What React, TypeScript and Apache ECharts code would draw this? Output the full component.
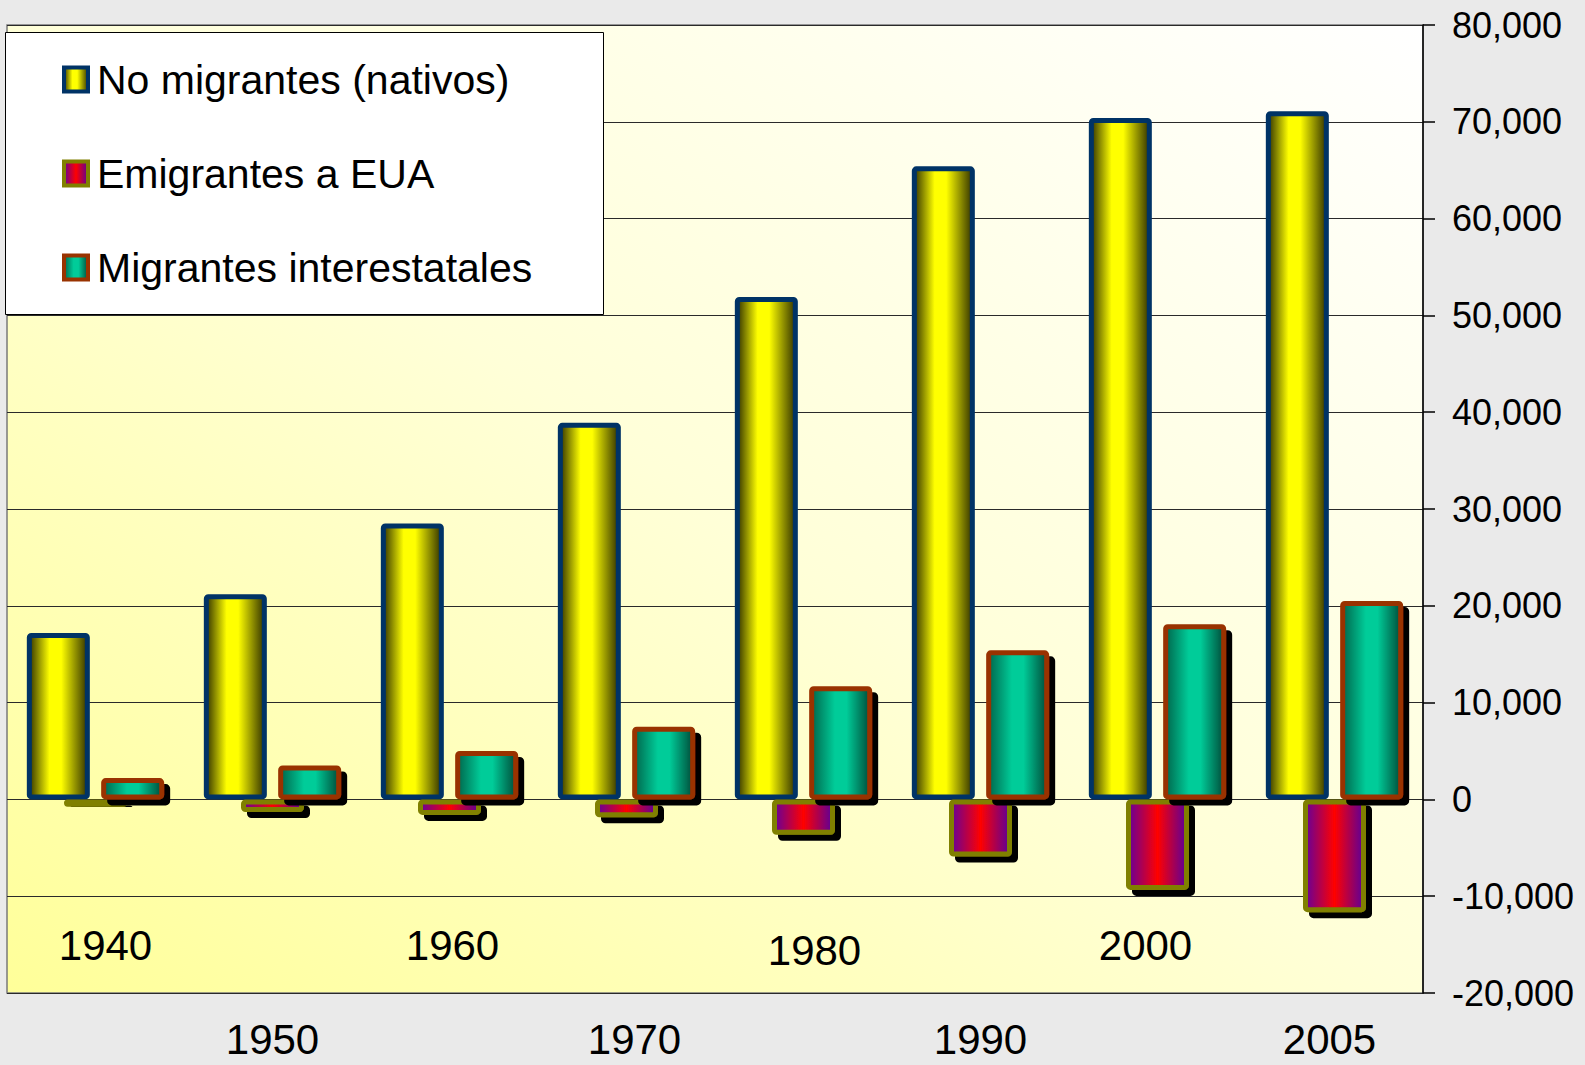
import React, { useEffect, useRef } from 'react';
import * as echarts from 'echarts';

// ---- data ----
const years = ['1940', '1950', '1960', '1970', '1980', '1990', '2000', '2005'];
const noMigrantes = [17200, 21200, 28500, 38900, 51900, 65400, 70400, 71100];
const emigrantesEUA = [-750, -1300, -1600, -1850, -3650, -5900, -9350, -11650];
const interestatales = [2200, 3500, 5000, 7500, 11700, 15400, 18100, 20500];
const seriesNames = ['No migrantes (nativos)', 'Emigrantes a EUA', 'Migrantes interestatales'];
const yMin = -20000;
const yMax = 80000;
const yStep = 10000;

// ---- styling ----
const FONT = 'Arial, "Liberation Sans", Helvetica, sans-serif';
// small nudges of category labels (px), as in the original
const labelShiftX = [10, 0, 3, 8, 11, 0, -12, -5];
const labelShiftY = [0, 0, 0, 0, 5, 0, 0, 0];

function hGrad(stops: [number, string][]) {
  return new echarts.graphic.LinearGradient(
    0, 0, 1, 0,
    stops.map(([offset, color]) => ({ offset, color }))
  );
}

const yellowFill = () => hGrad([[0, '#333300'], [0.35, '#ffff00'], [0.55, '#ffff00'], [1, '#333300']]);
const redFill = () => hGrad([[0, '#660099'], [0.5, '#ff0000'], [1, '#5c0099']]);
const greenFill = () => hGrad([[0, '#00664c'], [0.4, '#00cc99'], [0.6, '#00cc99'], [1, '#004d3a']]);

const seriesStyles = [
  { fill: yellowFill, border: '#003366', shadow: false },
  { fill: redFill, border: '#808000', shadow: true },
  { fill: greenFill, border: '#993300', shadow: true },
];
const seriesData = [noMigrantes, emigrantesEUA, interestatales];

function richFor(fontSize: number) {
  const rich: Record<string, any> = {};
  labelShiftX.forEach((s, i) => {
    const lh = fontSize - 2 * labelShiftY[i];
    rich['s' + i] = {
      fontSize,
      fontFamily: FONT,
      color: '#000',
      lineHeight: lh,
      padding: s >= 0 ? [0, 0, 0, 2 * s] : [0, -2 * s, 0, 0],
    };
  });
  return rich;
}

function buildOption(): any {
  return {
    animation: false,
    backgroundColor: '#eaeaea',
    textStyle: { fontFamily: FONT },
    grid: {
      left: 7,
      right: 162,
      top: 25,
      bottom: 72,
      show: true,
      borderColor: '#7a7a7a',
      borderWidth: 1.5,
      backgroundColor: new echarts.graphic.LinearGradient(0, 1, 1, 0, [
        { offset: 0, color: '#ffff99' },
        { offset: 0.5, color: '#ffffd8' },
        { offset: 1, color: '#ffffff' },
      ]),
    },
    graphic: [
      {
        type: 'rect',
        z: 3,
        shape: { x: 5.5, y: 32.5, width: 598, height: 282 },
        style: { fill: '#ffffff', stroke: '#000000', lineWidth: 1 },
      },
    ],
    legend: {
      orient: 'vertical',
      left: 62,
      top: 59,
      padding: 0,
      itemGap: 53,
      itemWidth: 24,
      itemHeight: 24,
      icon: 'rect',
      z: 5,
      textStyle: { fontSize: 41, lineHeight: 40, color: '#000', fontFamily: FONT, padding: [0, 0, 0, 4] },
      data: seriesNames.map((name, i) => ({
        name,
        icon: 'rect',
        itemStyle: {
          color: seriesStyles[i].fill(),
          borderColor: seriesStyles[i].border,
          borderWidth: 4,
          shadowColor: 'rgba(0,0,0,0)',
          shadowBlur: 0,
          shadowOffsetX: 0,
          shadowOffsetY: 0,
        },
      })),
    },
    xAxis: [
      {
        type: 'category',
        data: years,
        position: 'bottom',
        boundaryGap: true,
        axisLine: { show: false, onZero: false },
        axisTick: { show: false },
        splitLine: { show: false },
        axisLabel: {
          interval: 0,
          margin: 25,
          formatter: (v: string, i: number) => (i % 2 === 1 ? `{s${i}|${v}}` : ''),
          rich: richFor(42),
        },
      },
      {
        type: 'category',
        data: years,
        position: 'bottom',
        boundaryGap: true,
        axisLine: { show: false, onZero: false },
        axisTick: { show: false },
        splitLine: { show: false },
        axisLabel: {
          inside: true,
          interval: 0,
          margin: 27,
          formatter: (v: string, i: number) => (i % 2 === 0 ? `{s${i}|${v}}` : ''),
          rich: richFor(42),
        },
      },
    ],
    yAxis: {
      type: 'value',
      position: 'right',
      min: yMin,
      max: yMax,
      interval: yStep,
      axisLine: { show: true, lineStyle: { color: '#000', width: 1.5 } },
      axisTick: { show: true, length: 12, lineStyle: { color: '#000', width: 1.5 } },
      splitLine: { show: true, lineStyle: { color: '#2a2a2a', width: 1.2 } },
      axisLabel: {
        margin: 29,
        fontSize: 36,
        color: '#000',
        fontFamily: FONT,
        formatter: (v: number) => v.toLocaleString('en-US'),
      },
    },
    series: seriesNames.map((name, i) => ({
      name,
      type: 'bar',
      xAxisIndex: 0,
      data: seriesData[i],
      barWidth: 63,
      barGap: '-41%',
      itemStyle: {
        color: seriesStyles[i].fill(),
        borderColor: seriesStyles[i].border,
        borderWidth: 5,
        borderRadius: 2,
        ...(seriesStyles[i].shadow
          ? { shadowColor: '#000000', shadowBlur: 0, shadowOffsetX: 6, shadowOffsetY: 6 }
          : {}),
      },
      emphasis: { disabled: true },
    })),
  };
}

export default function App() {
  const ref = useRef<HTMLDivElement>(null);
  useEffect(() => {
    if (!ref.current) return;
    const chart = echarts.init(ref.current, null, { renderer: 'svg' });
    chart.setOption(buildOption());
    return () => chart.dispose();
  }, []);
  return (
    <div
      ref={ref}
      style={{ position: 'absolute', left: 0, top: 0, width: 1585, height: 1065 }}
    />
  );
}
